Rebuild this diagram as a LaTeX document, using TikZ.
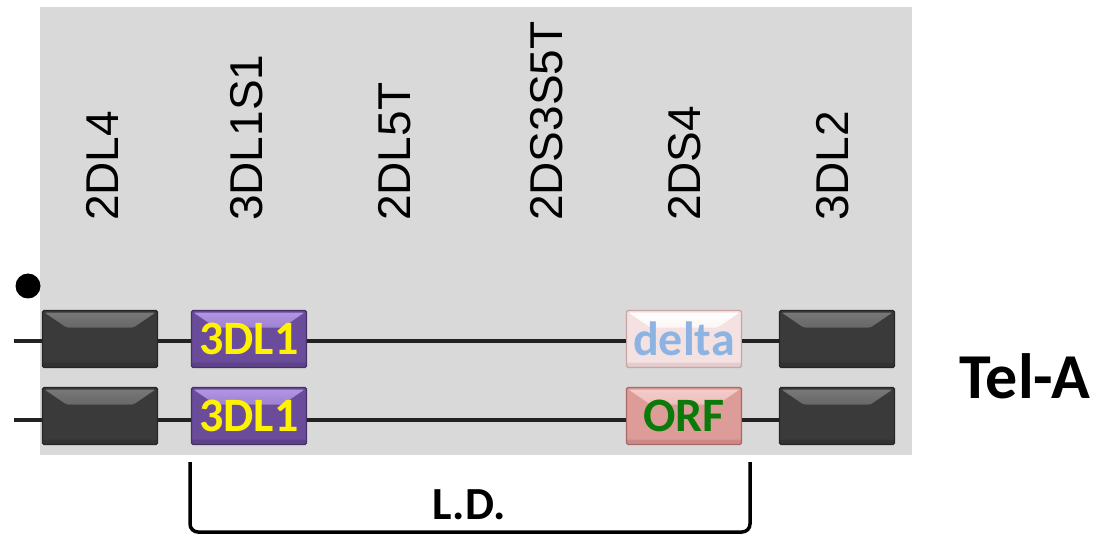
\documentclass[tikz,border=0pt]{standalone}
\usepackage{fontspec}
\setmainfont{Liberation Sans}
\newfontfamily\calfont{Carlito}
\begin{document}
\begin{tikzpicture}[x=1pt,y=-1pt,
  collabel/.style={rotate=90,anchor=base west,inner sep=0pt,
    font=\fontsize{46}{46}\selectfont},
  genebox/.style n args={4}{draw=#3,line width=1.2pt,fill=#1,
    minimum width=115pt,minimum height=57pt,inner sep=0pt,
    rounded corners=1.5pt,text=#4,
    font=\calfont\bfseries\fontsize{48}{48}\selectfont,
    path picture={
      \shade[top color=#2,bottom color=#1]
        ([xshift=2pt,yshift=-2pt]path picture bounding box.north west) --
        ([xshift=-2pt,yshift=-2pt]path picture bounding box.north east) --
        ([xshift=-24pt,yshift=-17pt]path picture bounding box.north east) --
        ([xshift=24pt,yshift=-17pt]path picture bounding box.north west) -- cycle;
      \fill[#3,opacity=0.35]
        ([yshift=5pt]path picture bounding box.south west) rectangle
        (path picture bounding box.south east);
    }},
  greybox/.style={genebox={gdark}{glight}{gedge}{white}},
  kirbox/.style={genebox={pmain}{plight}{pedge}{yellow}},
  deltabox/.style={genebox={dmain}{white}{dedge}{dtext}},
  orfbox/.style={genebox={omain}{olight}{oedge}{otext}},
  wire/.style={line width=3.2pt,draw=wirecol},
  bracket/.style={line width=3.5pt,rounded corners=8pt},
  boldlabel/.style={font=\calfont\bfseries\fontsize{#1}{#1}\selectfont,inner sep=0pt}
]
\definecolor{panel}{HTML}{D9D9D9}
\definecolor{gdark}{HTML}{3A3A3A}
\definecolor{glight}{HTML}{7A7A7A}
\definecolor{gedge}{HTML}{262626}
\definecolor{pmain}{HTML}{6A4C9A}
\definecolor{plight}{HTML}{B497E6}
\definecolor{pedge}{HTML}{463068}
\definecolor{dmain}{HTML}{F4E2E2}
\definecolor{dedge}{HTML}{C9A4A4}
\definecolor{dtext}{HTML}{8DB3E2}
\definecolor{omain}{HTML}{DE9C99}
\definecolor{olight}{HTML}{F4CDCB}
\definecolor{oedge}{HTML}{A86A68}
\definecolor{otext}{HTML}{0B7A0B}
\definecolor{wirecol}{HTML}{222222}

\useasboundingbox (0,0) rectangle (1100,537);
\fill[white] (0,0) rectangle (1100,537);
\fill[panel] (40,7) rectangle (912,455);

% column labels
\node[collabel] (c1) at (118,221) {2DL4};
\node[collabel] (c2) at (262,221) {3DL1S1};
\node[collabel] (c3) at (410,221) {2DL5T};
\node[collabel] (c4) at (562,221) {2DS3S5T};
\node[collabel] (c5) at (700,221) {2DS4};
\node[collabel] (c6) at (848,221) {3DL2};

% marker dot
\fill (28,286) circle (12.5);

% haplotype row 1
\node[greybox] (a1) at (100,339) {};
\node[kirbox] (a2) at (249,339) {3DL1};
\node[deltabox] (a3) at (684,339) {delta};
\node[greybox] (a4) at (837,339) {};
% haplotype row 2
\node[greybox] (b1) at (100,416) {};
\node[kirbox] (b2) at (249,416) {3DL1};
\node[orfbox] (b3) at (684,416) {ORF};
\node[greybox] (b4) at (837,416) {};

\coordinate (a0) at (14,341);
\coordinate (b0) at (14,420);
\draw[wire] (a0) -- ([yshift=-2pt]a1.west);
\draw[wire] ([yshift=-2pt]a1.east) -- ([yshift=-2pt]a2.west);
\draw[wire] ([yshift=-2pt]a2.east) -- ([yshift=-2pt]a3.west);
\draw[wire] ([yshift=-2pt]a3.east) -- ([yshift=-2pt]a4.west);
\draw[wire] (b0) -- ([yshift=-4pt]b1.west);
\draw[wire] ([yshift=-4pt]b1.east) -- ([yshift=-4pt]b2.west);
\draw[wire] ([yshift=-4pt]b2.east) -- ([yshift=-4pt]b3.west);
\draw[wire] ([yshift=-4pt]b3.east) -- ([yshift=-4pt]b4.west);

% haplotype name
\node[boldlabel=64] (tel) at (1025,376) {Tel-A};

% linkage bracket
\coordinate (l1) at (190,462);
\coordinate (l2) at (750,462);
\draw[bracket] (l1) -- (190,532) -- (750,532) -- (l2);
\node[boldlabel=46] (ld) at (469,505) {L.D.};
\end{tikzpicture}
\end{document}
